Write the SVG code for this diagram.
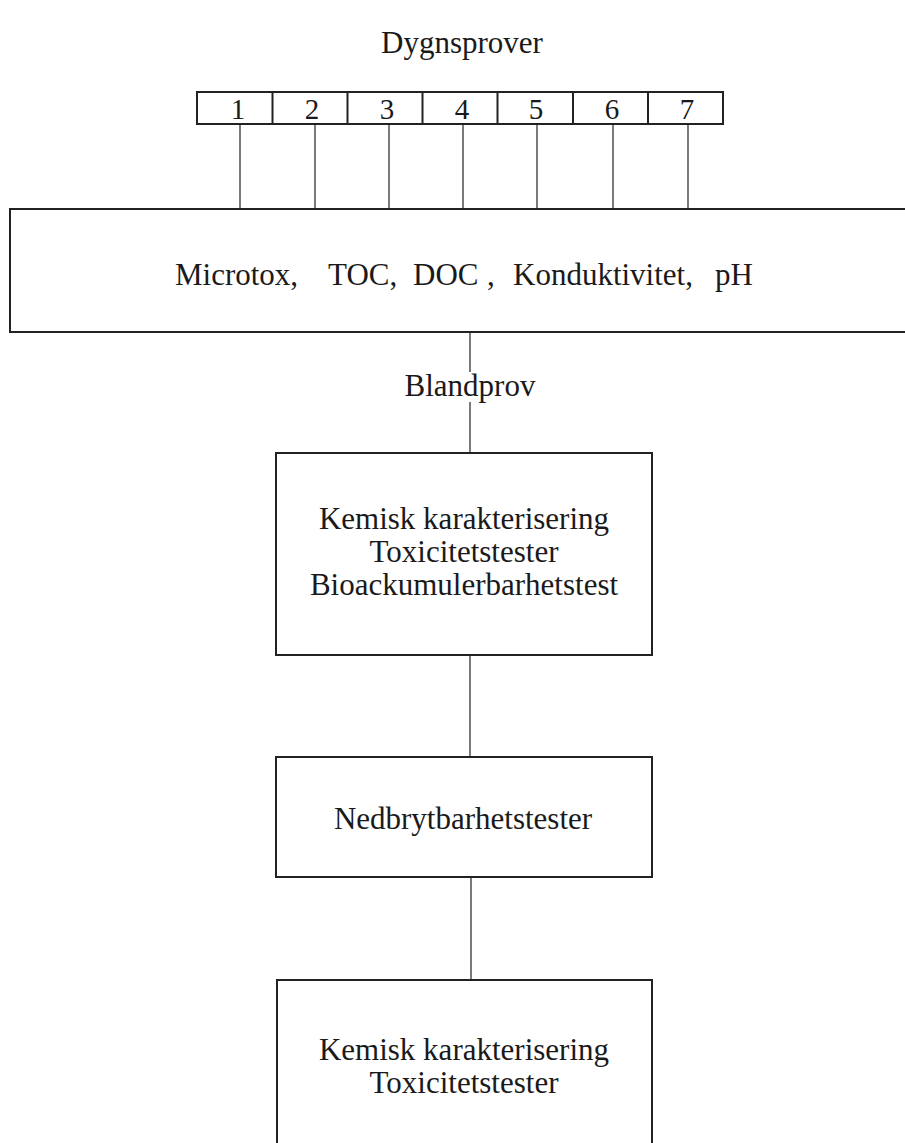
<svg xmlns="http://www.w3.org/2000/svg" width="905" height="1143" viewBox="0 0 905 1143">
<style>
text{font-family:"Liberation Serif","Times New Roman",serif;fill:#1a1a1a;text-anchor:middle}
.t{font-size:31px}
.d{font-size:29px}
.box{fill:#fff;stroke:#222;stroke-width:2}
.c{stroke:#333;stroke-width:1.3;fill:none}
.dv{stroke:#222;stroke-width:2}
</style>
<rect width="905" height="1143" fill="#fff"/>
<g id="connectors">
<line class="c" x1="240" y1="124" x2="240" y2="209"/>
<line class="c" x1="315" y1="124" x2="315" y2="209"/>
<line class="c" x1="389" y1="124" x2="389" y2="209"/>
<line class="c" x1="463" y1="124" x2="463" y2="209"/>
<line class="c" x1="537" y1="124" x2="537" y2="212"/>
<line class="c" x1="613" y1="124" x2="613" y2="213"/>
<line class="c" x1="688" y1="124" x2="688" y2="209"/>
<line class="c" x1="470" y1="333" x2="470" y2="372"/>
<line class="c" x1="470" y1="402" x2="470" y2="453"/>
<line class="c" x1="470" y1="655" x2="470" y2="757"/>
<line class="c" x1="471" y1="877" x2="471" y2="980"/>
</g>
<g id="title"><text class="t" x="462" y="53">Dygnsprover</text></g>
<g id="samples">
<rect class="box" x="197" y="92" width="526" height="32"/>
<line class="dv" x1="272.5" y1="92" x2="272.5" y2="124"/>
<line class="dv" x1="347.5" y1="92" x2="347.5" y2="124"/>
<line class="dv" x1="422.5" y1="92" x2="422.5" y2="124"/>
<line class="dv" x1="497.5" y1="92" x2="497.5" y2="124"/>
<line class="dv" x1="573" y1="92" x2="573" y2="124"/>
<line class="dv" x1="648" y1="92" x2="648" y2="124"/>
<text class="d" x="238" y="119">1</text>
<text class="d" x="312" y="119">2</text>
<text class="d" x="387" y="119">3</text>
<text class="d" x="462" y="119">4</text>
<text class="d" x="536" y="119">5</text>
<text class="d" x="612" y="119">6</text>
<text class="d" x="687" y="119">7</text>
</g>
<g id="screening">
<rect class="box" x="10" y="209" width="900" height="123"/>
<text class="t" y="285" style="text-anchor:start"><tspan x="175">Microtox,</tspan><tspan x="328">TOC,</tspan><tspan x="413">DOC</tspan><tspan x="487">,</tspan><tspan x="513">Konduktivitet,</tspan><tspan x="715">pH</tspan></text>
</g>
<g id="blandprov"><text class="t" x="470" y="396">Blandprov</text></g>
<g id="analys1">
<rect class="box" x="276" y="453" width="376" height="202"/>
<text class="t" x="464" y="529">Kemisk karakterisering</text>
<text class="t" x="464" y="562">Toxicitetstester</text>
<text class="t" x="464" y="595">Bioackumulerbarhetstest</text>
</g>
<g id="nedbrytbarhet">
<rect class="box" x="276" y="757" width="376" height="120"/>
<text class="t" x="463" y="829">Nedbrytbarhetstester</text>
</g>
<g id="analys2">
<rect class="box" x="277" y="980" width="375" height="180"/>
<text class="t" x="464" y="1060">Kemisk karakterisering</text>
<text class="t" x="464" y="1093">Toxicitetstester</text>
</g>
</svg>
